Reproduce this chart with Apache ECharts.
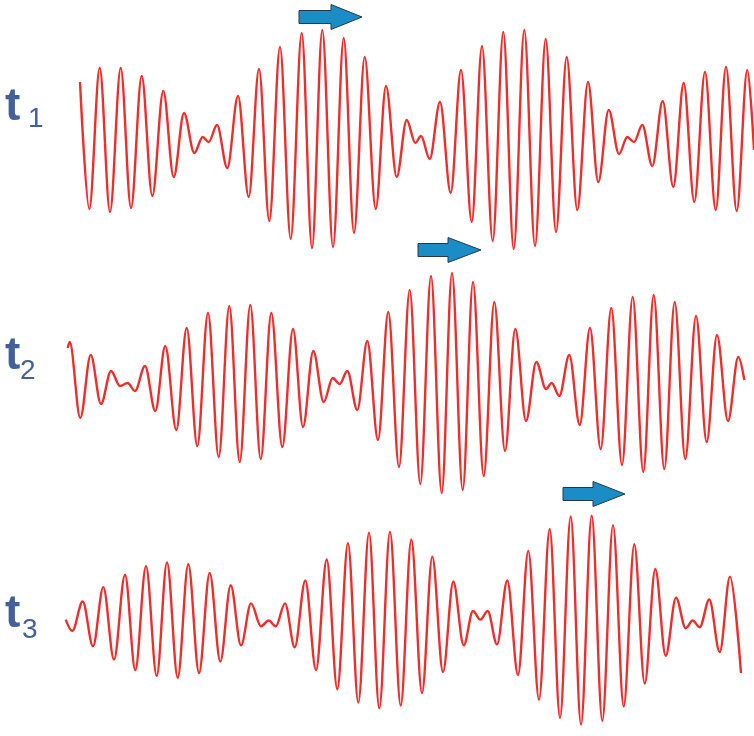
<!DOCTYPE html>
<html>
<head>
<meta charset="utf-8">
<script src="https://cdn.jsdelivr.net/npm/echarts@6/dist/echarts.min.js"></script>
<style>html,body{margin:0;padding:0;background:#fff}#c{width:754px;height:736px}</style>
</head>
<body>
<div id="c"></div>
<script>
// Row labels
const rowLabels = ['t', 't', 't'];
const rowSubs = ['1', '2', '3'];

// Wave extrema: position along the row, displacement (up positive)
const row1X = [80,89.3,99.7,110,120.7,131,141.7,152.3,163.3,173.7,184,194.3,202.7,208.7,217,227.3,238,248.7,259,269.3,280,290.7,301.7,312,322.3,333,343.7,354,364.7,375.7,386,396.7,406.7,415.3,421,429.7,440,450.7,461,471.7,482,492.7,503.3,513.7,524.3,535,545.7,556,566.7,577.3,588,598.3,608.7,619,627.3,634,642.3,652.3,662.7,673.3,683.7,694.3,705,715.7,726,736.7,747.3,754];
const row1Y = [58,-69,72,-72,72,-68,64,-56,49,-37,27,-13,3,-2,15,-28,44,-57,71,-81,93,-99,107,-108,110,-107,102,-93,83,-69,54,-37,20,-3,4,-19,38,-53,70,-82,94,-101,108,-109,110,-106,101,-92,83,-70,58,-42,30,-14,3,-2,15,-26,39,-47,57,-62,68,-70,73,-71,70,-10];

const row2X = [67.7,69.7,80.3,90.7,101,111,120,127.7,135,145,155.3,165.3,176.3,186.7,197.3,208,218.7,229.3,239.7,250.3,260.7,271.3,282.3,293,303,313.3,323.7,332.7,339.7,347.3,357.3,367.3,378,388.3,399,409.7,420.3,431,441.7,452,462.7,473,483.7,494.3,505,515.3,526,536.3,546,551.7,559.3,569.3,579.7,590,600.7,611.3,622,632.7,643.3,653.7,664.3,674.7,685.3,696,706.7,717,728,738.3,744.3];
const row2Y = [35,41,-35,28,-21,12,-3,0,-8,17,-28,37,-47,55,-63,70,-74,77,-79,78,-76,70,-64,54,-44,32,-19,5,-1,12,-27,42,-57,71,-84,93,-101,107,-110,110,-107,101,-93,81,-68,54,-38,21,-6,0,-13,28,-42,55,-66,75,-82,86,-89,88,-86,81,-76,67,-59,48,-38,26,3];

const row3X = [65.7,72.3,82.7,93,103.3,114,125,135.3,146,156.7,167,177.7,188.3,199,209.7,220.3,230.7,241,251,261,268.7,275.7,285,294.7,305.3,316,326.7,337.3,348,358.3,369,379.3,390,400.7,411.3,422,432.3,443,453.3,463.7,473,480.3,487.7,497,507.3,518,528.3,539,549.7,560,570.7,581,591.7,602.3,613,623.7,634.3,644.7,655.3,665.7,676,685.7,692.7,699.7,709.3,719.7,730,741];
const row3Y = [2,-10,21,-26,36,-40,49,-51,58,-57,62,-59,60,-54,51,-42,38,-25,19,-5,1,-5,19,-27,43,-51,65,-71,82,-85,93,-91,94,-88,86,-75,68,-53,42,-25,11,2,11,-24,43,-56,74,-82,97,-101,110,-108,111,-104,101,-89,81,-65,55,-36,25,-7,1,-6,23,-32,47,-54];

const rowsX = [row1X, row2X, row3X];
const rowsY = [row1Y, row2Y, row3Y];
const rowTops = [20, 263, 507];

const chart = echarts.init(document.getElementById('c'), null, {renderer: 'canvas'});

const grids = [], xAxes = [], yAxes = [], series = [];
rowsX.forEach((xs, i) => {
  grids.push({left: 0, width: 754, top: rowTops[i], height: 240});
  xAxes.push({type: 'value', gridIndex: i, min: 0, max: 754, show: false});
  yAxes.push({type: 'value', gridIndex: i, min: -120, max: 120, show: false});
  series.push({
    type: 'line', xAxisIndex: i, yAxisIndex: i,
    data: xs.map((x, k) => [x, rowsY[i][k]]),
    smooth: 0.34, smoothMonotone: 'x',
    showSymbol: false, symbol: 'none', clip: false,
    lineStyle: {color: '#ec2f2a', width: 2.4},
    silent: true, animation: false
  });
});

function arrow(x0, xb, xt, cy) {
  return {
    type: 'polygon',
    shape: {points: [[x0, cy - 6.5], [xb, cy - 6.5], [xb, cy - 12.5], [xt, cy], [xb, cy + 12.5], [xb, cy + 6.5], [x0, cy + 6.5]]},
    style: {fill: '#1b8dc6', stroke: '#27384a', lineWidth: 1}
  };
}

const labelFont = 'Liberation Sans, Arial, sans-serif';
const labelColor = '#44609a';
const labelMid = [107, 356, 614];
const subMid = [119, 371, 630];
const subX = [28, 20, 22];
const graphics = [];
rowLabels.forEach((t, i) => {
  graphics.push({type: 'text', x: 5, y: labelMid[i], style: {text: t, fill: labelColor, font: 'bold 46px ' + labelFont, verticalAlign: 'middle', align: 'left'}});
  graphics.push({type: 'text', x: subX[i], y: subMid[i], style: {text: rowSubs[i], fill: labelColor, font: '28px ' + labelFont, verticalAlign: 'middle', align: 'left'}});
});
graphics.push(arrow(299, 331, 362, 17));
graphics.push(arrow(418, 448, 481, 250));
graphics.push(arrow(563, 593, 625, 494));

chart.setOption({
  animation: false,
  backgroundColor: '#ffffff',
  grid: grids, xAxis: xAxes, yAxis: yAxes, series: series,
  graphic: graphics
});
</script>
</body>
</html>
